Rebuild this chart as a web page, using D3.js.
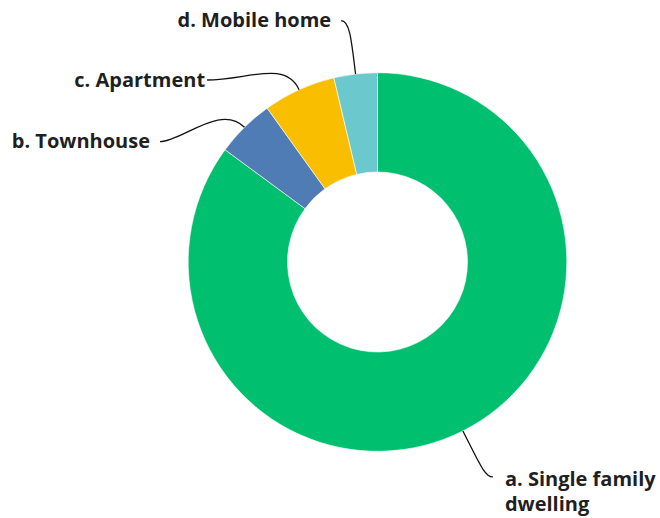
<!DOCTYPE html>
<html>
<head>
<meta charset="utf-8">
<script src="https://cdn.jsdelivr.net/npm/d3@7/dist/d3.min.js"></script>
<style>
  html, body { margin: 0; padding: 0; background: #fff; }
  svg { display: block; }
  text { font-family: "Open Sans", sans-serif; font-weight: 700; font-size: 20px; fill: #1f1f1f; }
</style>
</head>
<body>
<svg id="chart" width="660" height="518"></svg>
<script>
// ---- data ----
const categories = ["a. Single family dwelling", "b. Townhouse", "c. Apartment", "d. Mobile home"];
const labelLines = [["a. Single family", "dwelling"], ["b. Townhouse"], ["c. Apartment"], ["d. Mobile home"]];
const values = [85.1, 5.0, 6.2, 3.7];
const colors = ["#00bf6f", "#507cb6", "#f9be00", "#6bc8cd"];

// ---- layout ----
const W = 660, H = 518;
const cx = 377.5, cy = 262;
const outerR = 189.3, innerR = 90;
// leader-line end offsets relative to slice outer midpoint, text side (+1 right, -1 left)
const labelLayout = [
  { dx: 30, dy: 46, side: 1, k1: 38, k2: 8, gap: 12, ty: 9 },
  { dx: -84.5, dy: 14.3, side: -1, k1: 34, k2: 22, gap: 10, ty: 6.5 },
  { dx: -92, dy: -9.7, side: -1, k1: 33, k2: 40, gap: 2, ty: 6.5 },
  { dx: -14.4, dy: -53.3, side: -1, k1: 38, k2: 8, gap: 10, ty: 6 }
];

const svg = d3.select("#chart");
const g = svg.append("g").attr("transform", `translate(${cx},${cy})`);

const pie = d3.pie().sort(null).value(d => d);
const arcs = pie(values);
const arc = d3.arc().innerRadius(innerR).outerRadius(outerR);

g.selectAll("path.slice")
  .data(arcs)
  .enter().append("path")
  .attr("class", "slice")
  .attr("d", arc)
  .attr("fill", (d, i) => colors[i])
  .attr("stroke", "#ffffff")
  .attr("stroke-width", 0.6);

arcs.forEach((a, i) => {
  const mid = (a.startAngle + a.endAngle) / 2;
  const dir = [Math.sin(mid), -Math.cos(mid)];
  const p0 = [dir[0] * outerR, dir[1] * outerR];
  const L = labelLayout[i];
  const p3 = [p0[0] + L.dx, p0[1] + L.dy];
  const p1 = [p0[0] + dir[0] * L.k1, p0[1] + dir[1] * L.k1];
  const p2 = [p3[0] - L.side * L.k2, p3[1]];
  const path = d3.path();
  path.moveTo(p0[0], p0[1]);
  path.bezierCurveTo(p1[0], p1[1], p2[0], p2[1], p3[0], p3[1]);
  g.append("path")
    .attr("d", path.toString())
    .attr("fill", "none")
    .attr("stroke", "#111")
    .attr("stroke-width", 1.3);

  const tx = p3[0] + L.side * L.gap;
  const t = g.append("text")
    .attr("x", tx)
    .attr("y", p3[1] + L.ty)
    .attr("text-anchor", L.side > 0 ? "start" : "end");
  labelLines[i].forEach((line, j) => {
    t.append("tspan")
      .attr("x", tx)
      .attr("dy", j === 0 ? 0 : 25.5)
      .text(line);
  });
});
</script>
</body>
</html>
